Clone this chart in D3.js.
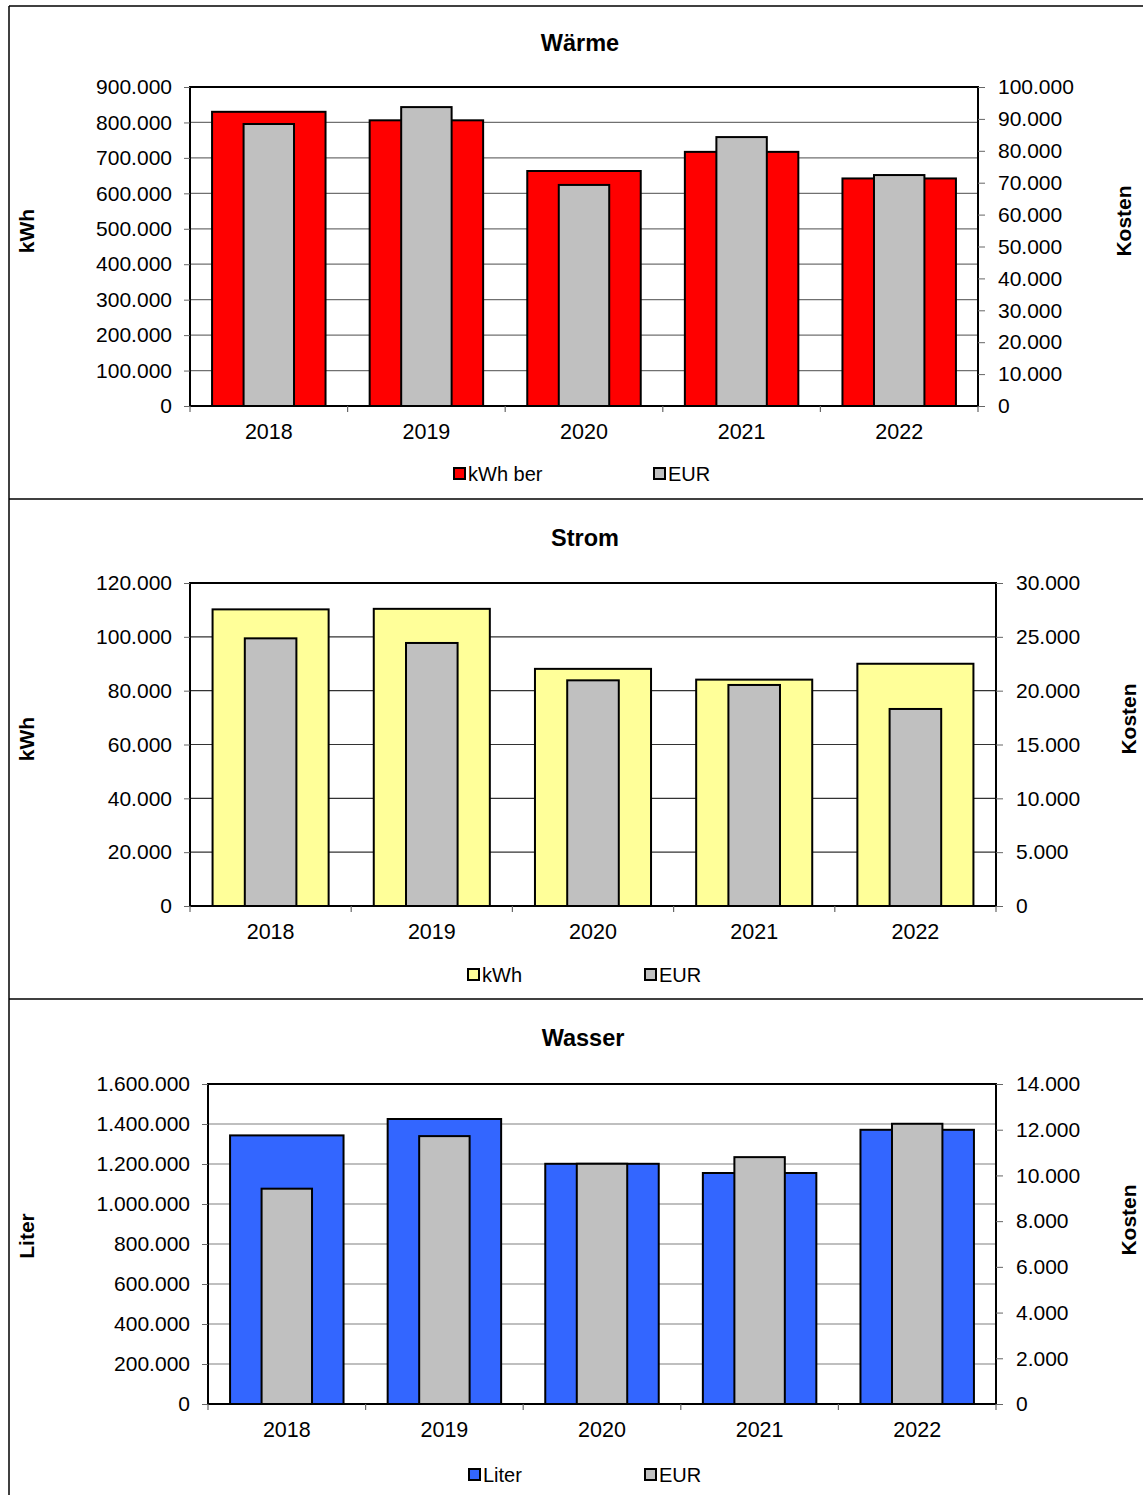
<!DOCTYPE html>
<html><head><meta charset="utf-8">
<script src="https://cdn.jsdelivr.net/npm/d3@7"></script>
<style>body{margin:0;background:#fff}svg{display:block;font-family:"Liberation Sans",Arial,sans-serif}</style>
</head><body>
<svg id="c" width="1143" height="1495"></svg>
<script>
const years = ["2018","2019","2020","2021","2022"];
const waermeKwh = [830000, 806000, 663000, 717000, 642000];
const waermeEur = [88400, 93700, 69300, 84300, 72400];
const stromKwh = [110200, 110400, 88100, 84100, 90000];
const stromEur = [24860, 24430, 20960, 20530, 18300];
const wasserLiter = [1343000, 1425000, 1201000, 1155000, 1371000];
const wasserEur = [9420, 11720, 10510, 10800, 12260];

const leftTicks1 = [0,100000,200000,300000,400000,500000,600000,700000,800000,900000];
const rightTicks1 = [0,10000,20000,30000,40000,50000,60000,70000,80000,90000,100000];
const leftTicks2 = [0,20000,40000,60000,80000,100000,120000];
const rightTicks2 = [0,5000,10000,15000,20000,25000,30000];
const leftTicks3 = [0,200000,400000,600000,800000,1000000,1200000,1400000,1600000];
const rightTicks3 = [0,2000,4000,6000,8000,10000,12000,14000];

const loc = d3.formatLocale({decimal:",", thousands:".", grouping:[3], currency:["","€"]});
const fmt = loc.format(",.0f");

const svg = d3.select("#c");
const FS = 21;

function panel(o){
  const g = svg.append("g");
  const x = d3.scaleBand().domain(years).range([o.left, o.right]);
  const xMain = d3.scaleBand().domain(years).range([o.left, o.right]).paddingInner(0.28).paddingOuter(0.14);
  const xSec = d3.scaleBand().domain(years).range([o.left, o.right]).paddingInner(0.68).paddingOuter(0.34);
  const yL = d3.scaleLinear().domain([0, d3.max(o.lt)]).range([o.bottom, o.top]);
  const yR = d3.scaleLinear().domain([0, d3.max(o.rt)]).range([o.bottom, o.top]);

  g.append("g").selectAll("line").data(o.lt.filter(v=>v>0 && v<d3.max(o.lt))).join("line")
    .attr("x1", o.left).attr("x2", o.right)
    .attr("y1", d=>yL(d)).attr("y2", d=>yL(d))
    .attr("stroke", o.grid).attr("stroke-width", 1.2);

  g.append("g").selectAll("rect").data(o.main).join("rect")
    .attr("x",(d,i)=>xMain(years[i])).attr("width", xMain.bandwidth())
    .attr("y", d=>yL(d)).attr("height", d=>o.bottom - yL(d))
    .attr("fill", o.color).attr("stroke","#000").attr("stroke-width",2);
  g.append("g").selectAll("rect").data(o.sec).join("rect")
    .attr("x",(d,i)=>xSec(years[i])).attr("width", xSec.bandwidth())
    .attr("y", d=>yR(d)).attr("height", d=>o.bottom - yR(d))
    .attr("fill", "#C0C0C0").attr("stroke","#000").attr("stroke-width",2);

  g.append("rect").attr("x",o.left).attr("y",o.top).attr("width",o.right-o.left).attr("height",o.bottom-o.top)
    .attr("fill","none").attr("stroke","#000").attr("stroke-width",2);

  const la = g.append("g").attr("transform",`translate(${o.left},0)`)
    .call(d3.axisLeft(yL).tickValues(o.lt).tickFormat(fmt).tickSize(6).tickPadding(12));
  la.select(".domain").remove();
  la.selectAll("line").attr("stroke","#666");
  la.selectAll("text").attr("font-size",FS).attr("fill","#000").attr("font-family","Liberation Sans, Arial, sans-serif");
  const ra = g.append("g").attr("transform",`translate(${o.right},0)`)
    .call(d3.axisRight(yR).tickValues(o.rt).tickFormat(fmt).tickSize(7).tickPadding(o.rpad));
  ra.select(".domain").remove();
  ra.selectAll("line").attr("stroke","#666");
  ra.selectAll("text").attr("font-size",FS).attr("fill","#000").attr("font-family","Liberation Sans, Arial, sans-serif");
  const boundaries = years.map(y=>x(y)).concat([o.right]);
  g.append("g").selectAll("line").data(boundaries).join("line")
    .attr("x1",d=>d).attr("x2",d=>d).attr("y1",o.bottom).attr("y2",o.bottom+6)
    .attr("stroke","#666").attr("stroke-width",1.2);
  g.append("g").selectAll("text").data(years).join("text")
    .attr("x", d=>x(d)+x.bandwidth()/2).attr("y", o.bottom+33)
    .attr("text-anchor","middle").attr("font-size",21.5).text(d=>d);

  g.append("text").attr("x",o.tx).attr("y",o.ty).attr("text-anchor","middle")
    .attr("font-size",23.5).attr("font-weight","bold").text(o.title);
  g.append("text").attr("transform",`translate(${o.lx},${o.ly}) rotate(-90)`).attr("text-anchor","middle")
    .attr("font-size",21).attr("font-weight","bold").text(o.ltitle);
  g.append("text").attr("transform",`translate(${o.rx},${o.ry}) rotate(-90)`).attr("text-anchor","middle")
    .attr("font-size",21).attr("font-weight","bold").text("Kosten");

  const lg = g.append("g");
  o.leg.forEach((l,i)=>{
    lg.append("rect").attr("x",l.x).attr("y",o.legy-6).attr("width",11).attr("height",11)
      .attr("fill", l.c).attr("stroke","#000").attr("stroke-width",2);
    lg.append("text").attr("x",l.x+14).attr("y",o.legy+7).attr("font-size",20).text(l.t);
  });
}

panel({title:"Wärme", tx:580, ty:51, left:190, right:978, top:87, bottom:406,
  lt:leftTicks1, rt:rightTicks1, main:waermeKwh, sec:waermeEur, color:"#FF0000", grid:"#707070",
  rpad:13, lx:34, ly:231, ltitle:"kWh", rx:1131, ry:221,
  legy:474, leg:[{x:454,c:"#FF0000",t:"kWh ber"},{x:654,c:"#C0C0C0",t:"EUR"}]});

panel({title:"Strom", tx:585, ty:546, left:190, right:996, top:583, bottom:906,
  lt:leftTicks2, rt:rightTicks2, main:stromKwh, sec:stromEur, color:"#FFFF99", grid:"#333",
  rpad:13, lx:34, ly:739, ltitle:"kWh", rx:1136, ry:719,
  legy:975, leg:[{x:468,c:"#FFFF99",t:"kWh"},{x:645,c:"#C0C0C0",t:"EUR"}]});

panel({title:"Wasser", tx:583, ty:1046, left:208, right:996, top:1084, bottom:1404,
  lt:leftTicks3, rt:rightTicks3, main:wasserLiter, sec:wasserEur, color:"#3366FF", grid:"#808080",
  rpad:13, lx:34, ly:1236, ltitle:"Liter", rx:1136, ry:1220,
  legy:1475, leg:[{x:469,c:"#3366FF",t:"Liter"},{x:645,c:"#C0C0C0",t:"EUR"}]});

svg.append("line").attr("x1",9).attr("x2",9).attr("y1",6).attr("y2",1495).attr("stroke","#000").attr("stroke-width",1.5);
svg.append("line").attr("x1",9).attr("x2",1143).attr("y1",6).attr("y2",6).attr("stroke","#000").attr("stroke-width",1.5);
[499, 999].forEach(y=>{
  svg.append("line").attr("x1",9).attr("x2",1143).attr("y1",y).attr("y2",y).attr("stroke","#000").attr("stroke-width",1.5);
});
</script>
</body></html>
